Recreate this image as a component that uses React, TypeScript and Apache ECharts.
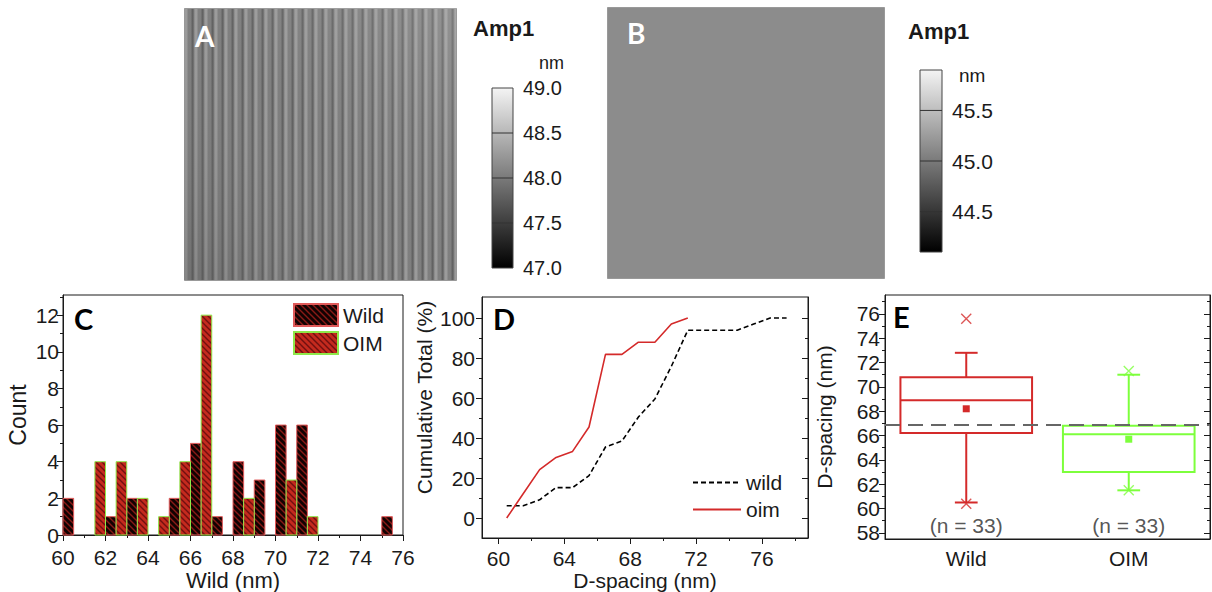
import { useEffect, useRef } from 'react'
import * as echarts from 'echarts'

// C: histogram, bins are 0.5 nm wide (bin start, count)
const wildBinStart = [60, 62, 63, 65, 66, 67, 68, 69, 70, 71, 75]
const wildCount = [2, 1, 2, 2, 5, 1, 4, 3, 6, 6, 1]
const oimBinStart = [61.5, 62.5, 63.5, 64.5, 65.5, 66.5, 68.5, 70.5, 71.5]
const oimCount = [4, 4, 2, 1, 4, 12, 2, 3, 1]
const binWidth = 0.5

// D: cumulative totals (%)
const wildCumX = [60.5, 61.5, 62.5, 63.5, 64.5, 65.5, 66.5, 67.5, 68.5, 69.5, 70.5, 71.5, 72.5, 73.5, 74.5, 75.5, 76.5, 77.5]
const wildCum = [6.1, 6.1, 9.1, 15.2, 15.2, 21.2, 35.5, 38.5, 50.5, 59.5, 75.8, 93.9, 93.9, 93.9, 93.9, 97, 100, 100]
const oimCumX = [60.5, 61.5, 62.5, 63.5, 64.5, 65.5, 66.5, 67.5, 68.5, 69.5, 70.5, 71.5]
const oimCum = [0, 12.1, 24.2, 30.3, 33.3, 45.5, 81.8, 81.8, 87.9, 87.9, 97, 100]

// E: box chart
const boxCats = ['Wild', 'OIM']
const boxMin = [60.5, 61.5]
const boxQ1 = [66.2, 63.0]
const boxMedian = [68.9, 66.1]
const boxQ3 = [70.8, 66.8]
const boxMax = [72.8, 71.0]
const boxMean = [68.2, 65.7]
const boxHigh = [75.6, 71.3]
const boxLow = [60.4, 61.5]
const refValue = 66.9
const nText = ['(n = 33)', '(n = 33)']
const nTextAt = 58.6

// tick values
const cXTicks = [60, 62, 64, 66, 68, 70, 72, 74, 76]
const cXMinor = [61, 63, 65, 67, 69, 71, 73, 75]
const cYTicks = [0, 2, 4, 6, 8, 10, 12]
const cYMinor = [1, 3, 5, 7, 9, 11, 13]
const dXTicks = [60, 64, 68, 72, 76]
const dXMinor = [62, 66, 70, 74, 78]
const dYTicks = [0, 20, 40, 60, 80, 100]
const dYMinor = [10, 30, 50, 70, 90]
const eYTicks = [58, 60, 62, 64, 66, 68, 70, 72, 74, 76]
const eYMinor = [59, 61, 63, 65, 67, 69, 71, 73, 75, 77]

// colour bars of the AFM images
const ampARange = [47, 49]
const ampATicks = [47, 47.5, 48, 48.5, 49]
const ampBRange = [44.1, 45.9]
const ampBTicks = [44.5, 45, 45.5]

const FONT = 'Liberation Sans'
const INK = '#1a1a1a'
const RED = '#d42a2a'
const GREEN = '#7dff3c'

function hatch(bg: string, fg: string) {
  const c = document.createElement('canvas')
  c.width = 6
  c.height = 6
  const g = c.getContext('2d')!
  g.fillStyle = bg
  g.fillRect(0, 0, 6, 6)
  g.strokeStyle = fg
  g.lineWidth = 1.4
  g.beginPath()
  g.moveTo(-1, -1); g.lineTo(7, 7)
  g.moveTo(-4, 2); g.lineTo(4, 10)
  g.moveTo(2, -4); g.lineTo(10, 4)
  g.stroke()
  return { image: c, repeat: 'repeat', imageWidth: 6, imageHeight: 6 }
}

// rough stand-in for the banded AFM texture
function stripes(base: string, light: string, dark: string) {
  const c = document.createElement('canvas')
  c.width = 10
  c.height = 10
  const g = c.getContext('2d')!
  g.fillStyle = base
  g.fillRect(0, 0, 10, 10)
  g.fillStyle = light
  g.fillRect(0, 0, 3, 10)
  g.fillStyle = dark
  g.fillRect(7, 0, 2, 10)
  return { image: c, repeat: 'repeat', imageWidth: 10, imageHeight: 10 }
}

// major axis + a second, label-less axis that only draws the minor ticks
function valueAxes(grid: number, position: string, min: number, max: number, ticks: number[], minor: number[], extra: any = {}) {
  const inside = !!extra.inside
  return [
    {
      type: 'value', gridIndex: grid, position, min, max,
      axisLine: { show: true, onZero: false, lineStyle: { color: INK } },
      axisTick: { show: true, inside, length: 6, customValues: ticks, lineStyle: { color: INK } },
      axisLabel: {
        show: !inside, customValues: ticks, color: INK, fontFamily: FONT,
        fontSize: extra.fontSize || 21, margin: extra.margin ?? 6,
      },
      splitLine: { show: false },
      name: extra.name,
      nameLocation: 'middle',
      nameGap: extra.nameGap,
      nameTextStyle: { color: INK, fontFamily: FONT, fontSize: extra.nameSize || 21, padding: extra.namePadding },
    },
    {
      type: 'value', gridIndex: grid, position, min, max,
      axisLine: { show: false, onZero: false },
      axisTick: { show: true, inside, length: 3, customValues: minor, lineStyle: { color: INK } },
      axisLabel: { show: false },
      splitLine: { show: false },
    },
  ]
}

function colourBar(range: number[], ticks: number[]) {
  return (params: any, api: any) => {
    const top = api.coord([0, range[1]])
    const bot = api.coord([1, range[0]])
    const lines = ticks
      .filter((t) => t > range[0] && t < range[1])
      .map((t) => {
        const y = api.coord([0, t])[1]
        return { type: 'line', shape: { x1: top[0], y1: y, x2: bot[0], y2: y }, style: { stroke: '#333', lineWidth: 1 } }
      })
    return {
      type: 'group',
      children: [
        {
          type: 'rect',
          shape: { x: top[0], y: top[1], width: bot[0] - top[0], height: bot[1] - top[1] },
          style: {
            fill: new echarts.graphic.LinearGradient(0, 0, 0, 1, [
              { offset: 0, color: '#f4f4f4' },
              { offset: 1, color: '#000000' },
            ]),
            stroke: '#444',
            lineWidth: 1,
          },
        },
        ...lines,
      ],
    }
  }
}

export default function App() {
  const chartRef = useRef<HTMLDivElement>(null)

  useEffect(() => {
    if (!chartRef.current) return
    document.body.style.margin = '0'
    const chart = echarts.init(chartRef.current, null, { renderer: 'svg' })

    const wildFill = hatch('#120202', '#8a1a16')
    const oimFill = hatch('#c42a1e', '#701010')

    const histItem = (params: any, api: any) => {
      const x0 = api.value(0)
      const h = api.value(1)
      const p0 = api.coord([x0, h])
      const p1 = api.coord([x0 + binWidth, 0])
      return {
        type: 'rect',
        shape: { x: p0[0], y: p0[1], width: p1[0] - p0[0], height: p1[1] - p0[1] },
        style: api.style(),
      }
    }

    const boxItem = (params: any, api: any) => {
      const i = api.value(0)
      const color = i === 0 ? RED : GREEN
      const band = api.size([1, 0])[0]
      const half = band * 0.405
      const cap = band * 0.07
      const cx = api.coord([i, 0])[0]
      const y = (v: number) => api.coord([i, v])[1]
      const yMin = y(api.value(1)), yQ1 = y(api.value(2)), yMed = y(api.value(3))
      const yQ3 = y(api.value(4)), yMax = y(api.value(5)), yMean = y(api.value(6))
      const st = { stroke: color, lineWidth: 2, fill: 'none' }
      return {
        type: 'group',
        children: [
          { type: 'line', shape: { x1: cx, y1: yQ3, x2: cx, y2: yMax }, style: st },
          { type: 'line', shape: { x1: cx, y1: yQ1, x2: cx, y2: yMin }, style: st },
          { type: 'line', shape: { x1: cx - cap, y1: yMax, x2: cx + cap, y2: yMax }, style: st },
          { type: 'line', shape: { x1: cx - cap, y1: yMin, x2: cx + cap, y2: yMin }, style: st },
          { type: 'rect', shape: { x: cx - half, y: yQ3, width: half * 2, height: yQ1 - yQ3 }, style: { ...st, fill: 'rgba(255,255,255,0)' } },
          { type: 'line', shape: { x1: cx - half, y1: yMed, x2: cx + half, y2: yMed }, style: st },
          { type: 'rect', shape: { x: cx - 3.5, y: yMean - 3.5, width: 7, height: 7 }, style: { fill: color } },
        ],
      }
    }

    const option = {
      animation: false,
      textStyle: { fontFamily: FONT },
      grid: [
        { left: 63, top: 295, width: 340, height: 242, show: true, borderColor: INK, borderWidth: 1 },
        { left: 482, top: 297, width: 326, height: 241, show: true, borderColor: INK, borderWidth: 1 },
        { left: 885, top: 295, width: 325, height: 244, show: true, borderColor: INK, borderWidth: 1 },
        { left: 492, top: 88, width: 21, height: 180 },
        { left: 920, top: 70, width: 22, height: 182 },
      ],
      xAxis: [
        ...valueAxes(0, 'bottom', 60, 76, cXTicks, cXMinor, { name: 'Wild (nm)', nameGap: 34, nameSize: 22, fontSize: 21, margin: 12 }),
        ...valueAxes(1, 'bottom', 59, 78.8, dXTicks, dXMinor, { name: 'D-spacing (nm)', nameGap: 32, margin: 10 }),
        {
          type: 'category', gridIndex: 2, data: boxCats, position: 'bottom',
          axisLine: { show: true, onZero: false, lineStyle: { color: INK } },
          axisTick: { show: false },
          axisLabel: { show: true, color: INK, fontFamily: FONT, fontSize: 21, margin: 9 },
          splitLine: { show: false },
        },
        { type: 'value', gridIndex: 3, min: 0, max: 1, show: false },
        { type: 'value', gridIndex: 4, min: 0, max: 1, show: false },
      ],
      yAxis: [
        ...valueAxes(0, 'left', 0, 13.1, cYTicks, cYMinor, { name: 'Count', nameGap: 34, nameSize: 23, fontSize: 21, margin: 4 }),
        ...valueAxes(1, 'left', -10, 110.5, dYTicks, dYMinor, { name: 'Cumulative Total (%)', nameGap: 47, margin: 7, namePadding: [0, 0, 0, 40] }),
        ...valueAxes(1, 'right', -10, 110.5, dYTicks, dYMinor, { inside: true }),
        ...valueAxes(2, 'left', 57.5, 77.55, eYTicks, eYMinor, { name: 'D-spacing (nm)', nameGap: 50, margin: 5 }),
        ...valueAxes(2, 'right', 57.5, 77.55, eYTicks, eYMinor, { inside: true }),
        {
          type: 'value', gridIndex: 3, position: 'right', min: ampARange[0], max: ampARange[1], interval: 0.5,
          axisLine: { show: false }, axisTick: { show: false }, splitLine: { show: false },
          axisLabel: { color: INK, fontSize: 20, margin: 10, formatter: (v: number) => v.toFixed(1) },
        },
        {
          type: 'value', gridIndex: 4, position: 'right', min: ampBRange[0], max: ampBRange[1],
          axisLine: { show: false }, axisTick: { show: false, customValues: ampBTicks }, splitLine: { show: false },
          axisLabel: { color: INK, fontSize: 21, margin: 10, customValues: ampBTicks, formatter: (v: number) => v.toFixed(1) },
        },
      ],
      legend: [
        {
          data: ['Wild', 'OIM'], orient: 'vertical', left: 293, top: 303, icon: 'rect',
          itemWidth: 44, itemHeight: 22, itemGap: 4, padding: 0,
          textStyle: { color: INK, fontFamily: FONT, fontSize: 21 },
        },
        {
          data: ['wild', 'oim'], orient: 'vertical', left: 692, top: 472,
          itemWidth: 48, itemHeight: 14, itemGap: 6, padding: 0,
          itemStyle: { opacity: 0 },
          textStyle: { color: INK, fontFamily: FONT, fontSize: 21 },
        },
      ],
      graphic: [
        {
          type: 'rect', left: 184, top: 8, shape: { width: 272, height: 272 },
          style: { fill: stripes('#7c7c7c', '#9c9c9c', '#5c5c5c'), stroke: '#999', lineWidth: 1 },
        },
        {
          type: 'rect', left: 184, top: 8, shape: { width: 272, height: 272 },
          style: {
            fill: new echarts.graphic.LinearGradient(0, 1, 1, 0, [
              { offset: 0, color: 'rgba(90,90,90,0.35)' },
              { offset: 0.5, color: 'rgba(150,150,150,0.1)' },
              { offset: 1, color: 'rgba(200,200,200,0.3)' },
            ]),
          },
        },
        {
          type: 'rect', left: 607, top: 7, shape: { width: 277, height: 271 },
          style: { fill: '#8c8c8c', stroke: '#999', lineWidth: 1 },
        },
        { type: 'text', left: 195, top: 22, style: { text: 'A', fill: '#fff', font: 'bold 28px Lato' } },
        { type: 'text', left: 627, top: 19, style: { text: 'B', fill: '#fff', font: 'bold 28px Lato' } },
        { type: 'text', left: 473, top: 17, style: { text: 'Amp1', fill: INK, font: `bold 22px "${FONT}"` } },
        { type: 'text', left: 539, top: 54, style: { text: 'nm', fill: INK, font: `18px "${FONT}"` } },
        { type: 'text', left: 908, top: 20, style: { text: 'Amp1', fill: INK, font: `bold 22px "${FONT}"` } },
        { type: 'text', left: 959, top: 66, style: { text: 'nm', fill: INK, font: `19px "${FONT}"` } },
        { type: 'text', left: 74, top: 304, style: { text: 'C', fill: '#000', font: 'bold 29px Lato' } },
        { type: 'text', left: 493, top: 304, style: { text: 'D', fill: '#000', font: 'bold 29px Lato' } },
        { type: 'text', left: 893, top: 302, style: { text: 'E', fill: '#000', font: 'bold 29px Lato' } },
      ],
      series: [
        {
          name: 'Wild', type: 'custom', xAxisIndex: 0, yAxisIndex: 0, renderItem: histItem,
          itemStyle: { color: wildFill, borderColor: '#e05a5a', borderWidth: 1 },
          data: wildBinStart.map((x, i) => [x, wildCount[i]]),
        },
        {
          name: 'OIM', type: 'custom', xAxisIndex: 0, yAxisIndex: 0, renderItem: histItem,
          itemStyle: { color: oimFill, borderColor: '#8ee84a', borderWidth: 1 },
          data: oimBinStart.map((x, i) => [x, oimCount[i]]),
        },
        {
          name: 'wild', type: 'line', xAxisIndex: 2, yAxisIndex: 2, symbol: 'none',
          lineStyle: { color: '#000', width: 1.6, type: [5, 3] }, itemStyle: { color: '#000' },
          data: wildCumX.map((x, i) => [x, wildCum[i]]),
        },
        {
          name: 'oim', type: 'line', xAxisIndex: 2, yAxisIndex: 2, symbol: 'none',
          lineStyle: { color: RED, width: 1.6 }, itemStyle: { color: RED },
          data: oimCumX.map((x, i) => [x, oimCum[i]]),
        },
        {
          type: 'custom', xAxisIndex: 4, yAxisIndex: 6, renderItem: boxItem,
          data: boxCats.map((_, i) => [i, boxMin[i], boxQ1[i], boxMedian[i], boxQ3[i], boxMax[i], boxMean[i]]),
        },
        {
          type: 'scatter', xAxisIndex: 4, yAxisIndex: 6, symbol: 'path://M0 0L10 10M10 0L0 10', symbolSize: 10,
          data: boxCats.flatMap((_, i) => [boxHigh[i], boxLow[i]].map((v) => ({
            value: [i, v],
            itemStyle: { color: 'rgba(0,0,0,0)', borderColor: i === 0 ? RED : GREEN, borderWidth: 1.4 },
          }))),
        },
        {
          type: 'scatter', xAxisIndex: 4, yAxisIndex: 6, symbolSize: 0,
          label: {
            show: true, position: 'inside', color: '#2a2a2a', fontFamily: FONT, fontSize: 21,
            formatter: (p: any) => nText[p.dataIndex],
          },
          data: boxCats.map((_, i) => [i, nTextAt]),
          markLine: {
            silent: true, symbol: ['none', 'none'], label: { show: false },
            lineStyle: { color: '#666', width: 2, type: [15, 8] },
            data: [{ yAxis: refValue }],
          },
        },
        {
          type: 'custom', xAxisIndex: 5, yAxisIndex: 10, renderItem: colourBar(ampARange, ampATicks), data: [[0]],
        },
        {
          type: 'custom', xAxisIndex: 6, yAxisIndex: 11, renderItem: colourBar(ampBRange, ampBTicks), data: [[0]],
        },
      ],
    }

    chart.setOption(option as any)

    return () => {
      chart.dispose()
    }
  }, [])

  return <div ref={chartRef} style={{ width: 1212, height: 592 }} />
}
